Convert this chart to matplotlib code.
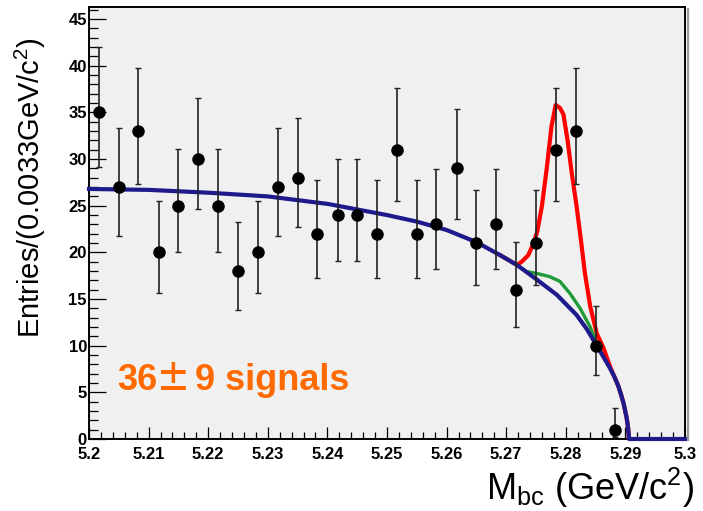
import numpy as np
import matplotlib
matplotlib.use("Agg")
import matplotlib.pyplot as plt
from matplotlib.ticker import MultipleLocator, FixedLocator, FixedFormatter

plt.rcParams['font.family'] = ['Liberation Sans', 'DejaVu Sans']
plt.rcParams['mathtext.fontset'] = 'custom'
plt.rcParams['mathtext.rm'] = 'Liberation Sans'
plt.rcParams['mathtext.it'] = 'Liberation Sans:italic'
plt.rcParams['mathtext.bf'] = 'Liberation Sans:bold'

# Mbc histogram (bin centres, entries, Poisson interval bounds)
mbc = [5.2017, 5.2050, 5.2083, 5.2117, 5.2150, 5.2183, 5.2217, 5.2250, 5.2283,
       5.2317, 5.2350, 5.2383, 5.2417, 5.2450, 5.2483, 5.2517, 5.2550, 5.2583,
       5.2617, 5.2650, 5.2683, 5.2717, 5.2750, 5.2783, 5.2817, 5.2850, 5.2883]
entries = [35, 27, 33, 20, 25, 30, 25, 18, 20, 27, 28, 22, 24, 24, 22, 31, 22, 23,
           29, 21, 23, 16, 21, 31, 33, 10, 1]
err_lo = [29.1, 21.8, 27.3, 15.6, 20.0, 24.6, 20.0, 13.8, 15.6, 21.8, 22.7, 17.3,
          19.1, 19.1, 17.3, 25.5, 17.3, 18.2, 23.6, 16.5, 18.2, 12.0, 16.5, 25.5,
          27.3, 6.9, 0.17]
err_hi = [42.0, 33.3, 39.8, 25.5, 31.1, 36.5, 31.1, 23.3, 25.5, 33.3, 34.4, 27.8,
          30.0, 30.0, 27.8, 37.6, 27.8, 28.9, 35.4, 26.7, 28.9, 21.1, 26.7, 37.6,
          39.8, 14.3, 3.3]

# fitted background (ARGUS shape)
bkg_x = [5.2000, 5.2100, 5.2200, 5.2300, 5.2350, 5.2400, 5.2450, 5.2500, 5.2550,
         5.2600, 5.2650, 5.2690, 5.2718, 5.2751, 5.2785, 5.2818, 5.2835, 5.2852,
         5.2864, 5.2874, 5.2882, 5.2888, 5.2893, 5.2897, 5.2902, 5.29045, 5.2906,
         5.3000]
bkg_y = [26.8, 26.7, 26.4, 26.0, 25.6, 25.2, 24.6, 24.0, 23.3,
         22.4, 21.1, 19.7, 18.65, 17.1, 15.45, 13.3, 11.8, 10.0,
         8.7, 7.6, 6.6, 5.7, 4.7, 3.8, 2.3, 1.2, 0.0,
         0.0]

# background + peaking background
peak_x = [5.2690, 5.2718, 5.2734, 5.2751, 5.2773, 5.2790, 5.2807, 5.2824, 5.2841,
          5.2853]
peak_y = [19.7, 18.65, 17.95, 17.75, 17.4, 16.9, 15.6, 14.0, 12.0,
          10.0]

# total fit
tot_x = [5.2690, 5.2718, 5.2726, 5.2737, 5.2746, 5.2752, 5.2760, 5.2768, 5.2776,
         5.2783, 5.2790, 5.2796, 5.2803, 5.2810, 5.2818, 5.2826, 5.2832, 5.2841,
         5.2852, 5.2863, 5.2874, 5.2882, 5.2888, 5.2893, 5.2897, 5.2902, 5.29045,
         5.2906]
tot_y = [19.7, 18.65, 19.0, 19.7, 21.0, 22.2, 25.0, 29.0, 33.5,
         35.8, 35.5, 34.8, 32.0, 28.5, 25.0, 21.0, 17.8, 14.2,
         11.3, 9.8, 7.8, 6.6, 5.7, 4.7, 3.8, 2.3, 1.2,
         0.0]

x_ticks = [5.20, 5.21, 5.22, 5.23, 5.24, 5.25, 5.26, 5.27, 5.28, 5.29, 5.30]
x_labels = ['5.2', '5.21', '5.22', '5.23', '5.24', '5.25', '5.26', '5.27', '5.28',
            '5.29', '5.3']

fig = plt.figure(figsize=(7.03, 5.11), dpi=100)
ax = fig.add_axes([89 / 703, 1 - 439 / 511, 596 / 703, 432 / 511])
ax.set_facecolor('#f0f0f0')

ax.plot(tot_x, tot_y, color='#ff0000', lw=3.0, zorder=3, solid_joinstyle='round')
ax.plot(peak_x, peak_y, color='#1f9a36', lw=2.4, zorder=4, solid_joinstyle='round')
ax.plot(bkg_x, bkg_y, color='#1e1a8c', lw=3.0, zorder=5, clip_on=False,
        solid_joinstyle='round')

y = np.array(entries, dtype=float)
yerr = [y - np.array(err_lo), np.array(err_hi) - y]
ax.errorbar(mbc, y, yerr=yerr, fmt='o', color='black', ms=8, mfc='black', mec='black',
            ecolor='#222222', elinewidth=1.2, capsize=2.2, capthick=1.0, zorder=6)

ax.set_xlim(5.2, 5.3)
ax.set_ylim(0, 46.3)

ax.xaxis.set_major_locator(FixedLocator(x_ticks))
ax.xaxis.set_major_formatter(FixedFormatter(x_labels))
ax.xaxis.set_minor_locator(MultipleLocator(0.002))
ax.yaxis.set_major_locator(MultipleLocator(5))
ax.yaxis.set_minor_locator(MultipleLocator(1))

ax.tick_params(axis='both', which='both', direction='in', top=False, right=False,
               width=0.9, color='black')
ax.tick_params(axis='x', which='major', length=8.6, pad=6, labelsize=12)
ax.tick_params(axis='x', which='minor', length=4.7)
ax.tick_params(axis='y', which='major', length=12.2, pad=1.5, labelsize=12)
ax.tick_params(axis='y', which='minor', length=6.5)
for lab in ax.get_xticklabels() + ax.get_yticklabels():
    lab.set_fontweight('bold')

for side in ['left', 'bottom', 'top', 'right']:
    ax.spines[side].set_linewidth(1.4)
    ax.spines[side].set_color('black')

# pad shadow on the right of the frame
fig.add_artist(plt.Line2D([687.5 / 703, 687.5 / 703], [1 - 9 / 511, 1 - 440 / 511],
                          transform=fig.transFigure, color='#9a9a9a', lw=1.6))

fig.text(30 / 703, 1 - 188 / 511, r'Entries/(0.0033GeV/c$^{2}$)', rotation=90,
         ha='center', va='center', fontsize=21)
fig.text(694 / 703, 1 - 500 / 511, r'M$_{\mathrm{bc}}$ (GeV/c$^{2}$)',
         ha='right', va='baseline', fontsize=26)

# signal yield, with a full-width plus-minus sign
sig_color = '#ff6a00'
ax.text(5.2047, 5.25, '36', color=sig_color, fontsize=26, fontweight='bold',
        va='baseline', ha='left', zorder=7)
ax.text(5.21418, 5.25, '±', color=sig_color, fontsize=25, fontweight='bold',
        va='baseline', ha='center', zorder=7,
        family=['Noto Sans CJK JP', 'DejaVu Sans'])
ax.text(5.21779, 5.25, '9 signals', color=sig_color, fontsize=26, fontweight='bold',
        va='baseline', ha='left', zorder=7)

fig.savefig('out.png', dpi=100)
